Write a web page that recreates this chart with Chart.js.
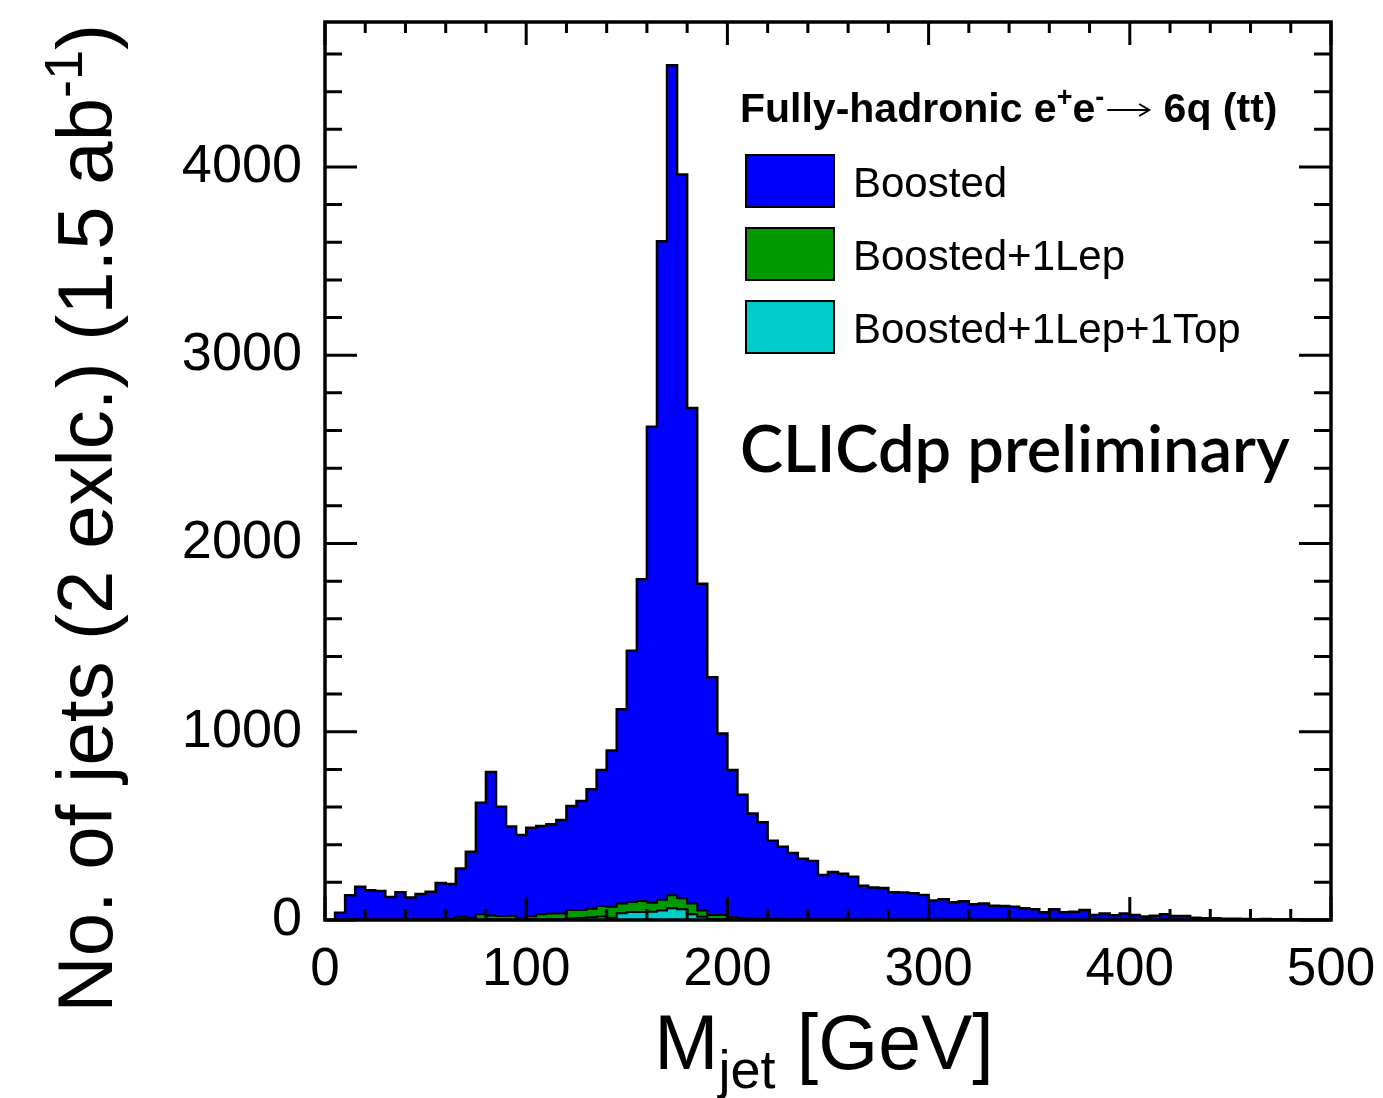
<!DOCTYPE html>
<html>
<head>
<meta charset="utf-8">
<script src="https://cdn.jsdelivr.net/npm/chart.js@4.4.0/dist/chart.umd.min.js"></script>
<style>
html, body { margin: 0; padding: 0; background: #fff; }
canvas { display: block; }
</style>
</head>
<body>
<canvas id="mjet-chart" width="1383" height="1098"></canvas>
<script>
// 5 GeV bins from 0 to 500 GeV
const binWidth = 5;
const boosted = [
    0, 39, 131, 177, 158, 154, 122, 147, 119, 138,
    150, 196, 191, 273, 363, 623, 786, 602, 496, 451,
    490, 499, 508, 531, 605, 632, 694, 797, 900, 1120,
    1430, 1810, 2620, 3605, 4540, 3960, 2720, 1786, 1290, 990,
    797, 665, 566, 519, 421, 389, 356, 326, 313, 239,
    255, 246, 230, 182, 172, 170, 147, 146, 142, 133,
    103, 110, 94, 99, 83, 88, 76, 75, 70, 62,
    57, 41, 57, 41, 44, 53, 27, 35, 25, 35,
    27, 19, 23, 30, 21, 21, 12, 9, 9, 6,
    6, 5, 4, 5, 3, 3, 4, 2, 3, 2
];
const boostedLep = [
    0, 0, 1, 1, 1, 1, 1, 1, 2, 2,
    3, 3, 4, 17, 12, 30, 24, 21, 22, 11,
    20, 30, 34, 35, 53, 53, 60, 74, 71, 87,
    96, 101, 92, 108, 131, 115, 87, 50, 27, 27,
    16, 11, 9, 7, 5, 6, 4, 4, 3, 2,
    2, 2, 1, 1, 1, 1, 1, 0, 1, 0,
    0, 0, 0, 0, 0, 0, 0, 0, 0, 0,
    0, 0, 0, 0, 0, 0, 0, 0, 0, 0,
    0, 0, 0, 0, 0, 0, 0, 0, 0, 0,
    0, 0, 0, 0, 0, 0, 0, 0, 0, 0
];
const boostedLepTop = [
    0, 0, 0, 0, 0, 0, 0, 0, 0, 0,
    0, 0, 1, 2, 2, 3, 3, 3, 3, 2,
    3, 3, 4, 4, 8, 10, 14, 18, 12, 36,
    42, 43, 44, 51, 62, 57, 30, 17, 5, 5,
    3, 2, 2, 1, 1, 1, 0, 0, 0, 0,
    0, 0, 0, 0, 0, 0, 0, 0, 0, 0,
    0, 0, 0, 0, 0, 0, 0, 0, 0, 0,
    0, 0, 0, 0, 0, 0, 0, 0, 0, 0,
    0, 0, 0, 0, 0, 0, 0, 0, 0, 0,
    0, 0, 0, 0, 0, 0, 0, 0, 0, 0
];
const seriesNames = ['Boosted', 'Boosted+1Lep', 'Boosted+1Lep+1Top'];
const seriesColors = ['#0000ff', '#009900', '#00cccc'];
const xTicks = [0, 100, 200, 300, 400, 500];
const yTicks = [0, 1000, 2000, 3000, 4000];
const yMax = 4770;

const sans = '"Liberation Sans", Arial, Helvetica, sans-serif';

// histogram -> points at lower bin edges, drawn as steps
function toSteps(vals) {
    const pts = vals.map((v, i) => ({ x: i * binWidth, y: v }));
    pts.push({ x: vals.length * binWidth, y: vals[vals.length - 1] });
    return pts;
}

function histDataset(i, vals, order) {
    return {
        label: seriesNames[i],
        data: toSteps(vals),
        stepped: true,
        fill: 'origin',
        backgroundColor: seriesColors[i],
        borderColor: '#000',
        borderWidth: i === 0 ? 2.5 : 2,
        pointRadius: 0,
        tension: 0,
        order: order
    };
}

// draws text runs (font / vertical shift) one after the other
function richText(ctx, runs, x, y, align) {
    let total = 0;
    runs.forEach(r => {
        if (!r.arrow) { ctx.font = r.font; r.w = ctx.measureText(r.t).width; }
        total += r.w;
    });
    let cx = align === 'center' ? x - total / 2 : align === 'right' ? x - total : x;
    ctx.textAlign = 'left';
    ctx.textBaseline = 'alphabetic';
    runs.forEach(r => {
        if (r.arrow) {
            const ay = y - 12;
            ctx.save();
            ctx.lineWidth = 2;
            ctx.beginPath();
            ctx.moveTo(cx + 3, ay); ctx.lineTo(cx + r.w - 3, ay);
            ctx.moveTo(cx + r.w - 13, ay - 6); ctx.lineTo(cx + r.w - 3, ay); ctx.lineTo(cx + r.w - 13, ay + 6);
            ctx.stroke();
            ctx.restore();
        } else {
            ctx.font = r.font;
            ctx.fillText(r.t, cx, y + (r.dy || 0));
        }
        cx += r.w;
    });
}

const rootStyle = {
    id: 'rootStyle',
    afterDraw(chart) {
        const { ctx, chartArea: a, scales: { x, y } } = chart;
        ctx.save();
        ctx.strokeStyle = '#000';
        ctx.fillStyle = '#000';
        ctx.lineWidth = 3;
        ctx.beginPath();
        for (let v = 0; v <= 500; v += 20) {
            const px = x.getPixelForValue(v);
            const len = v % 100 === 0 ? 23 : 11;
            ctx.moveTo(px, a.bottom); ctx.lineTo(px, a.bottom - len);
            ctx.moveTo(px, a.top); ctx.lineTo(px, a.top + len);
        }
        for (let v = 0; v <= yMax; v += 200) {
            const py = y.getPixelForValue(v);
            const len = v % 1000 === 0 ? 32 : 17;
            ctx.moveTo(a.left, py); ctx.lineTo(a.left + len, py);
            ctx.moveTo(a.right, py); ctx.lineTo(a.right - len, py);
        }
        ctx.stroke();
        ctx.lineWidth = 3.5;
        ctx.strokeRect(a.left, a.top, a.right - a.left, a.bottom - a.top);

        // axis titles
        richText(ctx, [
            { t: 'M', font: '77px ' + sans },
            { t: 'jet', font: '54px ' + sans, dy: 19 },
            { t: ' [GeV]', font: '77px ' + sans }
        ], (a.left + a.right) / 2 - 4, 1069, 'center');

        ctx.save();
        ctx.translate(112, 24);
        ctx.rotate(-Math.PI / 2);
        richText(ctx, [
            { t: 'No. of jets (2 exlc.) (1.5 ab', font: '78px ' + sans },
            { t: '-1', font: '54px ' + sans, dy: -30 },
            { t: ')', font: '78px ' + sans }
        ], 0, 0, 'right');
        ctx.restore();

        // legend
        richText(ctx, [
            { t: 'Fully-hadronic e', font: 'bold 41px ' + sans },
            { t: '+', font: 'bold 27px ' + sans, dy: -16 },
            { t: 'e', font: 'bold 41px ' + sans },
            { t: '-', font: 'bold 27px ' + sans, dy: -16 },
            { arrow: true, w: 48 },
            { t: ' 6q (tt)', font: 'bold 41px ' + sans }
        ], 740, 122, 'left');
        const boxTops = [155, 228, 301];
        seriesNames.forEach((name, i) => {
            ctx.fillStyle = seriesColors[i];
            ctx.fillRect(746, boxTops[i], 88, 52);
            ctx.lineWidth = 2;
            ctx.strokeRect(746, boxTops[i], 88, 52);
            ctx.fillStyle = '#000';
            ctx.font = '42px ' + sans;
            ctx.textAlign = 'left';
            ctx.textBaseline = 'alphabetic';
            ctx.fillText(name, 853, boxTops[i] + 42);
        });

        // label
        ctx.font = '600 65px Lato, "Open Sans", sans-serif';
        const w = ctx.measureText('CLICdp preliminary').width;
        const size = 65 * 550 / w;
        ctx.font = '600 ' + size.toFixed(1) + 'px Lato, "Open Sans", sans-serif';
        ctx.fillText('CLICdp preliminary', 740, 472);
        ctx.restore();
    }
};

const ctx = document.getElementById('mjet-chart').getContext('2d');
window.mjetChart = new Chart(ctx, {
    type: 'line',
    data: {
        datasets: [
            histDataset(2, boostedLepTop, 1),
            histDataset(1, boostedLep, 2),
            histDataset(0, boosted, 3)
        ]
    },
    options: {
        responsive: false,
        animation: false,
        layout: { padding: { left: 0, top: 22, right: 52, bottom: 0 } },
        plugins: { legend: { display: false }, tooltip: { enabled: false } },
        scales: {
            x: {
                type: 'linear',
                min: 0,
                max: 500,
                grid: { display: false, drawTicks: false },
                border: { display: false },
                ticks: { color: '#000', font: { family: sans, size: 53 }, padding: 19, maxRotation: 0,
                    callback: v => String(v) },
                afterBuildTicks: s => { s.ticks = xTicks.map(v => ({ value: v })); },
                afterFit: s => { s.height = 178; s.paddingLeft = 0; s.paddingRight = 0; }
            },
            y: {
                min: 0,
                max: yMax,
                grid: { display: false, drawTicks: false },
                border: { display: false },
                ticks: { color: '#000', font: { family: sans, size: 54 }, padding: 23,
                    callback: v => String(v) },
                afterBuildTicks: s => { s.ticks = yTicks.map(v => ({ value: v })); },
                afterFit: s => { s.width = 325; s.paddingTop = 0; s.paddingBottom = 0; }
            }
        }
    },
    plugins: [rootStyle]
});
</script>
</body>
</html>
